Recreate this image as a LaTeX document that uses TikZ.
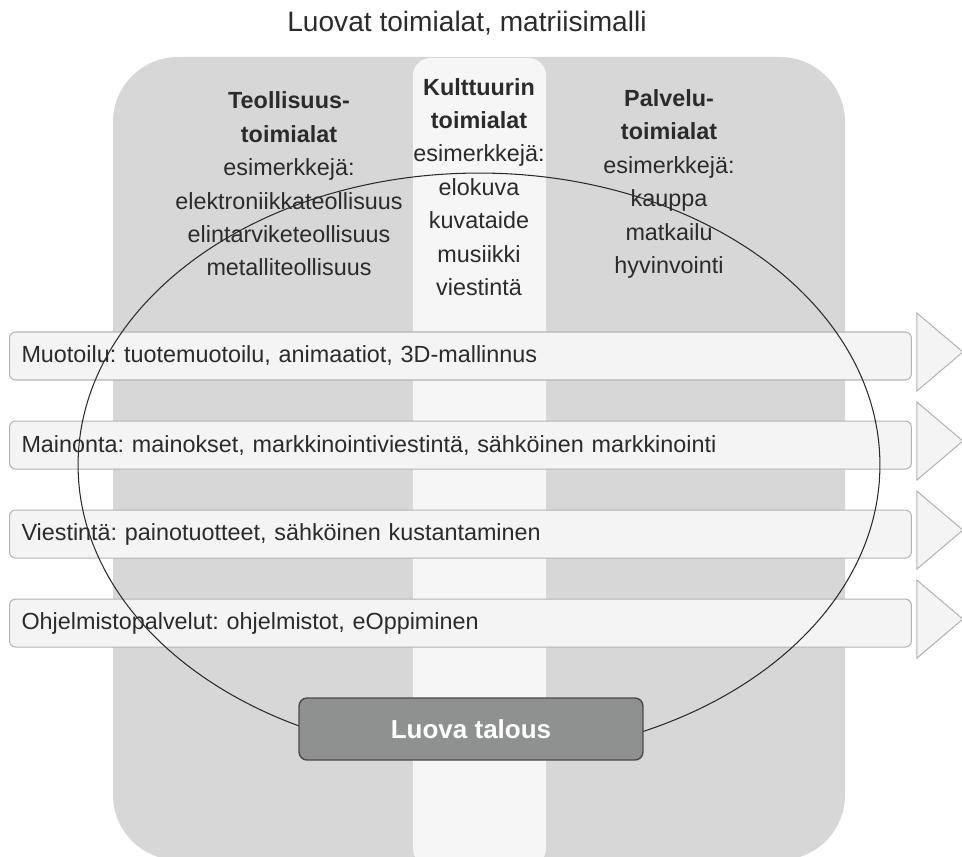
\documentclass[tikz,border=0pt]{standalone}
\usepackage{fontspec}
\setmainfont{Liberation Sans}
\usetikzlibrary{positioning}
\frenchspacing

\definecolor{bggray}{HTML}{D6D7D6}
\definecolor{colwhite}{HTML}{F6F6F6}
\definecolor{bandfill}{HTML}{F4F4F4}
\definecolor{bandline}{HTML}{B4B4B4}
\definecolor{boxfill}{HTML}{8F9090}
\definecolor{boxline}{HTML}{4A4A4A}
\definecolor{inkgray}{HTML}{2B2B2B}

\begin{document}
\begin{tikzpicture}[
    x=0.02cm, y=-0.02cm,
    title node/.style={font=\fontsize{16}{18}\selectfont, text=inkgray},
    column node/.style={align=center, inner sep=0pt, text=inkgray, font=\fontsize{13.3}{19}\selectfont},
    band node/.style={rectangle, rounded corners=0.12cm, draw=bandline, fill=bandfill, line width=0.6pt, anchor=west,
        minimum height=0.96cm, text width=17.56cm, inner xsep=0.24cm, align=left, text=inkgray, font=\fontsize{13.3}{16}\selectfont},
    arrow tri/.style={draw=bandline, fill=bandfill, line width=0.6pt},
    economy node/.style={rectangle, rounded corners=0.16cm, draw=boxline, fill=boxfill, line width=0.8pt,
        minimum width=6.88cm, minimum height=1.24cm, text=white, font=\fontsize{14.8}{16}\selectfont\bfseries}
]
\clip (0,0) rectangle (962,857);

% Background
\fill[bggray, rounded corners=1.3cm] (113,57) rectangle (845,860);
\fill[colwhite, rounded corners=0.35cm] (413,58) rectangle (546,866);

% Title
\node[title node] (title) at (467,23) {Luovat toimialat, matriisimalli};

% Columns
\node[column node] (teollisuus) at (289,184) {\textbf{Teollisuus-}\\\textbf{toimialat}\\esimerkkejä:\\elektroniikkateollisuus\\elintarviketeollisuus\\metalliteollisuus};
\node[column node] (kulttuuri) at (479,187) {\textbf{Kulttuurin}\\\textbf{toimialat}\\esimerkkejä:\\elokuva\\kuvataide\\musiikki\\viestintä};
\node[column node] (palvelu) at (669,184) {\textbf{Palvelu-}\\\textbf{toimialat}\\esimerkkejä:\\kauppa\\matkailu\\hyvinvointi};

% Bands
\node[band node] (muotoilu) at (9,356) {Muotoilu: tuotemuotoilu, animaatiot, 3D-mallinnus};
\node[band node, below=0.8cm of muotoilu] (mainonta) {Mainonta: mainokset, markkinointiviestintä, sähköinen markkinointi};
\node[band node, below=0.8cm of mainonta] (viestinta) {Viestintä: painotuotteet, sähköinen kustantaminen};
\node[band node, below=0.8cm of viestinta] (ohjelmisto) {Ohjelmistopalvelut: ohjelmistot, eOppiminen};

% Arrow heads
\draw[arrow tri] ([shift={(5,-43)}]muotoilu.east) -- ([shift={(51,-4)}]muotoilu.east) -- ([shift={(5,35)}]muotoilu.east) -- cycle;
\draw[arrow tri] ([shift={(5,-43)}]mainonta.east) -- ([shift={(51,-4)}]mainonta.east) -- ([shift={(5,35)}]mainonta.east) -- cycle;
\draw[arrow tri] ([shift={(5,-43)}]viestinta.east) -- ([shift={(51,-4)}]viestinta.east) -- ([shift={(5,35)}]viestinta.east) -- cycle;
\draw[arrow tri] ([shift={(5,-43)}]ohjelmisto.east) -- ([shift={(51,-4)}]ohjelmisto.east) -- ([shift={(5,35)}]ohjelmisto.east) -- cycle;

% Creative economy
\draw[inkgray, line width=0.6pt] (479,465) ellipse [x radius=8.02cm, y radius=5.84cm];
\node[economy node] (luova) at (471,729) {Luova talous};

\end{tikzpicture}
\end{document}
